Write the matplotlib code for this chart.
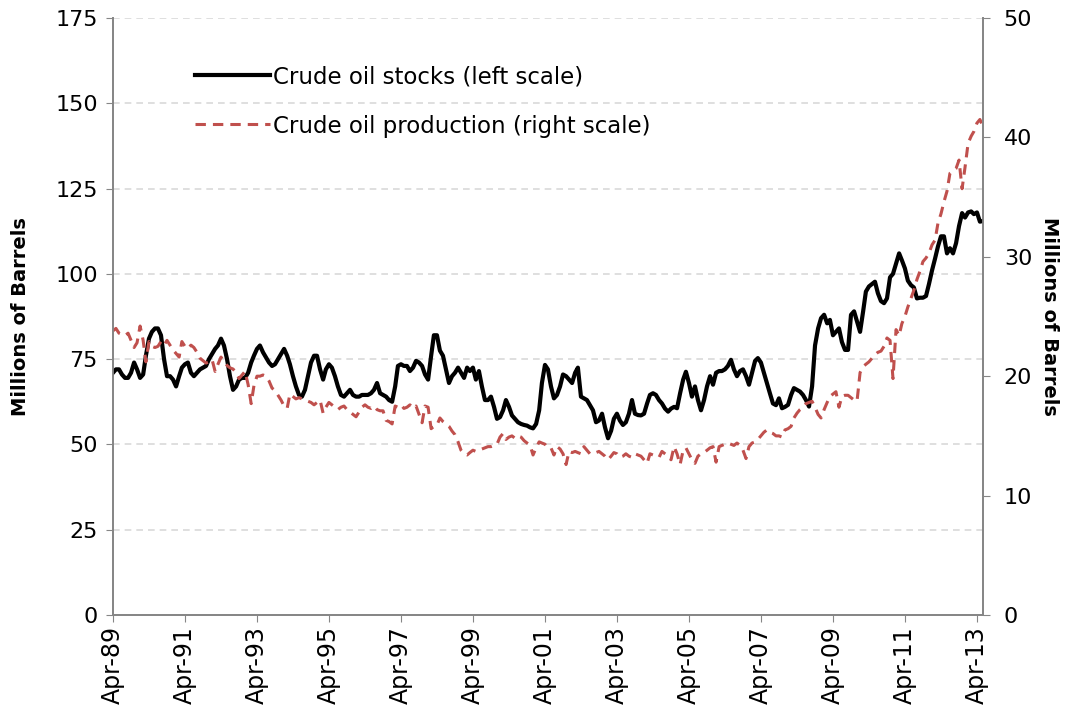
import matplotlib
matplotlib.use("Agg")
import matplotlib.pyplot as plt
import matplotlib.dates as mdates
import pandas as pd

# monthly values, Apr-89 .. Jun-13
stocks = [
    71, 72, 72, 70.5, 69.5, 69.5, 71, 74, 72, 69.5, 70.5, 76,
    81, 83, 84, 84, 82, 75, 70, 70, 69, 67, 70, 72.5,
    73.5, 74, 71, 70, 71, 72, 72.5, 73, 75, 76.5, 78, 79,
    81, 79, 75, 70, 66, 67, 69, 69.5, 69.5, 71, 74, 76,
    78, 79, 77, 75.5, 74, 73, 73.5, 75, 76.5, 78, 76, 73.5,
    70, 67, 64.5, 64, 66, 70, 74, 76, 76, 72, 69, 72,
    73.5, 72.5, 70, 67, 64.5, 64, 65, 66, 64.5, 64, 64, 64.5,
    64.5, 64.5, 65, 66, 68, 65, 64.5, 64, 63, 62.5, 67, 73,
    73.5, 73, 73, 71.5, 72.5, 74.5, 74, 73, 70.5, 69, 76, 82,
    82, 77.5, 76, 72, 68, 70, 71, 72.5, 71, 69.5, 72.5, 71.5,
    72.5, 69, 71.5, 67, 63, 63, 64, 61, 57.5, 58, 60, 63,
    61, 58.5, 57.5, 56.5, 56, 55.7, 55.5, 55, 54.7, 56, 60, 68,
    73.3, 72, 67, 63.5, 64.5, 67, 70.5, 70, 69, 68, 71, 72.5,
    64, 63.5, 63, 61.5, 60, 56.5, 57, 59, 55, 51.8, 54, 57.5,
    59, 57, 55.7, 56.5, 59, 63, 59, 58.6, 58.5, 59, 62, 64.5,
    65, 64.5, 63, 62, 60.5, 59.6, 60.5, 61, 60.6, 65, 69, 71.3,
    68, 64, 67, 63, 60, 63, 67, 70, 67.5, 71, 71.5, 71.5,
    72, 73, 74.8, 72, 70, 71.5, 72, 70, 67.5, 71, 74.5, 75.3,
    74, 71, 68, 65, 62, 61.5, 63.5, 60.6, 61, 61.6, 64.5, 66.5,
    66, 65.5, 64.5, 63, 61.1, 67, 79, 84, 87, 88, 85.5, 86.5,
    82, 83, 84, 80, 77.7, 77.7, 88, 89, 86, 83, 89, 94.8,
    96.3, 97, 97.7, 94.3, 92, 91.4, 92.8, 99, 100, 103, 106, 104,
    101.6, 98, 96.7, 96, 92.8, 93, 93, 93.5, 97, 101, 104.5, 108,
    111, 111, 106, 107.5, 106, 109, 114, 117.8, 116.5, 118, 118.3, 117.5,
    118, 115.3, 115.5,
]

production = [
    23.8, 24.0, 23.6, 23.5, 23.4, 23.6, 23.0, 22.4, 22.8, 24.2, 23.0, 21.2,
    22.9, 22.5, 22.4, 22.5, 22.9, 22.6, 23.0, 22.6, 22.2, 21.9, 21.6, 22.9,
    22.5, 22.3, 22.6, 22.4, 22.0, 21.5, 21.3, 21.1, 21.2, 21.4, 20.4, 21.0,
    21.6, 21.2, 20.9, 20.7, 20.6, 20.3, 19.8, 20.1, 20.4, 19.3, 17.7, 19.2,
    20.0, 20.0, 20.1, 20.0, 19.6, 19.0, 18.8, 18.4, 18.0, 17.5, 17.3, 18.5,
    18.3, 18.1, 18.2, 18.1, 18.0, 17.9, 17.8, 17.6, 17.8, 18.0, 16.9, 17.4,
    17.8, 17.6, 17.4, 17.2, 17.4, 17.5, 17.2, 17.0, 16.8, 16.6, 17.0, 17.4,
    17.6, 17.4, 17.3, 17.5, 17.2, 17.1, 17.1, 16.3, 16.2, 16.0, 17.5, 17.4,
    17.6, 17.3, 17.4, 17.6, 17.3, 17.5, 16.8, 16.1, 17.5, 17.4, 15.6, 15.8,
    15.9, 16.5, 16.2, 16.0, 15.8, 15.4, 15.1, 14.5, 13.8, 13.5, 13.4, 13.6,
    13.8, 13.7, 13.8, 13.9, 14.0, 14.1, 14.1, 14.2, 14.3, 14.9, 15.2, 14.7,
    14.9, 15.0, 14.8, 15.0, 14.9, 14.6, 14.4, 14.2, 13.4, 14.0, 14.5, 14.4,
    14.3, 14.0, 14.0, 13.4, 14.1, 13.9, 13.5, 12.6, 13.7, 13.6, 13.7, 13.6,
    13.5, 14.1, 13.8, 13.5, 13.5, 13.6, 13.7, 13.5, 13.3, 13.0, 13.3, 13.6,
    13.5, 13.2, 13.3, 13.5, 13.3, 13.2, 13.5, 13.4, 13.3, 13.0, 12.7, 13.5,
    13.4, 13.3, 13.2, 13.7, 13.5, 13.3, 13.0, 14.1, 13.5, 12.6, 13.8, 14.0,
    13.5, 13.0, 12.7, 13.3, 13.5, 13.6, 13.8, 14.0, 14.1, 12.8, 14.1, 14.2,
    14.3, 14.4, 14.3, 14.2, 14.4, 14.2, 13.8, 13.1, 14.1, 14.4, 14.5, 14.7,
    15.0, 15.3, 15.5, 15.3, 15.2, 15.0, 15.0, 14.9, 15.5, 15.6, 15.8, 16.5,
    16.9, 17.2, 17.4, 17.7, 17.8, 17.9, 17.4, 16.8, 16.5, 17.2, 17.8, 18.3,
    18.5, 18.7, 17.4, 18.3, 18.4, 18.4, 18.2, 18.0, 17.9, 20.3, 20.8, 21.0,
    21.2, 21.5, 21.8, 22.0, 22.1, 22.5, 23.2, 23.0, 19.8, 23.9, 23.4, 24.4,
    25.0, 25.8, 26.5, 27.2, 28.1, 28.8, 29.6, 29.9, 30.3, 31.0, 31.4, 32.8,
    33.6, 34.6, 35.5, 37.0, 37.2, 37.4, 38.1, 35.7, 37.5, 39.5, 40.1, 40.5,
    41.2, 41.5, 40.9,
]

dates = pd.date_range("1989-04-01", periods=len(stocks), freq="MS")
xticks = dates[::24]
left_ticks = [0, 25, 50, 75, 100, 125, 150, 175]
right_ticks = [0, 10, 20, 30, 40, 50]

spine_col = "#868686"
red = "#C0504D"

fig = plt.figure(figsize=(10.73, 7.17), dpi=100)
ax = fig.add_axes([0.1053, 0.1423, 0.8108, 0.8326])
ax2 = ax.twinx()

for y in left_ticks[1:]:
    ax.axhline(y, color="#D9D9D9", lw=1.2, ls=(0, (4, 3)), zorder=0)

l1, = ax.plot(dates, stocks, color="black", lw=3.0, solid_joinstyle="round",
              label="Crude oil stocks (left scale)", zorder=3)
l2, = ax2.plot(dates, production, color=red, lw=2.2, dashes=(3.4, 2.3),
               label="Crude oil production (right scale)", zorder=2)

ax.set_ylim(0, 175)
ax2.set_ylim(0, 50)
ax.set_yticks(left_ticks)
ax2.set_yticks(right_ticks)
ax.set_xlim(dates[0], dates[-1])
ax.set_xticks(xticks)
ax.xaxis.set_major_formatter(mdates.DateFormatter("%b-%y"))
ax.tick_params(axis="x", rotation=90, labelsize=17, length=5, color=spine_col, pad=3)
ax.tick_params(axis="y", labelsize=16, length=5, color=spine_col, pad=6)
ax2.tick_params(axis="y", labelsize=16, length=5, color=spine_col, pad=10)

for a in (ax, ax2):
    a.spines["top"].set_visible(False)
    for s in ("left", "right", "bottom"):
        a.spines[s].set_color(spine_col)
        a.spines[s].set_linewidth(1.3)

ax.set_ylabel("Millions of Barrels", fontsize=14, fontweight="bold", labelpad=18)
ax2.set_ylabel("Millions of Barrels", fontsize=14, fontweight="bold",
               rotation=270, labelpad=19)

ax.legend([l1, l2], [l1.get_label(), l2.get_label()], loc="upper left",
          bbox_to_anchor=(0.094, 0.921), frameon=False, fontsize=16.5,
          borderpad=0, borderaxespad=0, handlelength=3.3, handletextpad=0.1,
          labelspacing=1.15)

fig.savefig("out.png", dpi=100)
